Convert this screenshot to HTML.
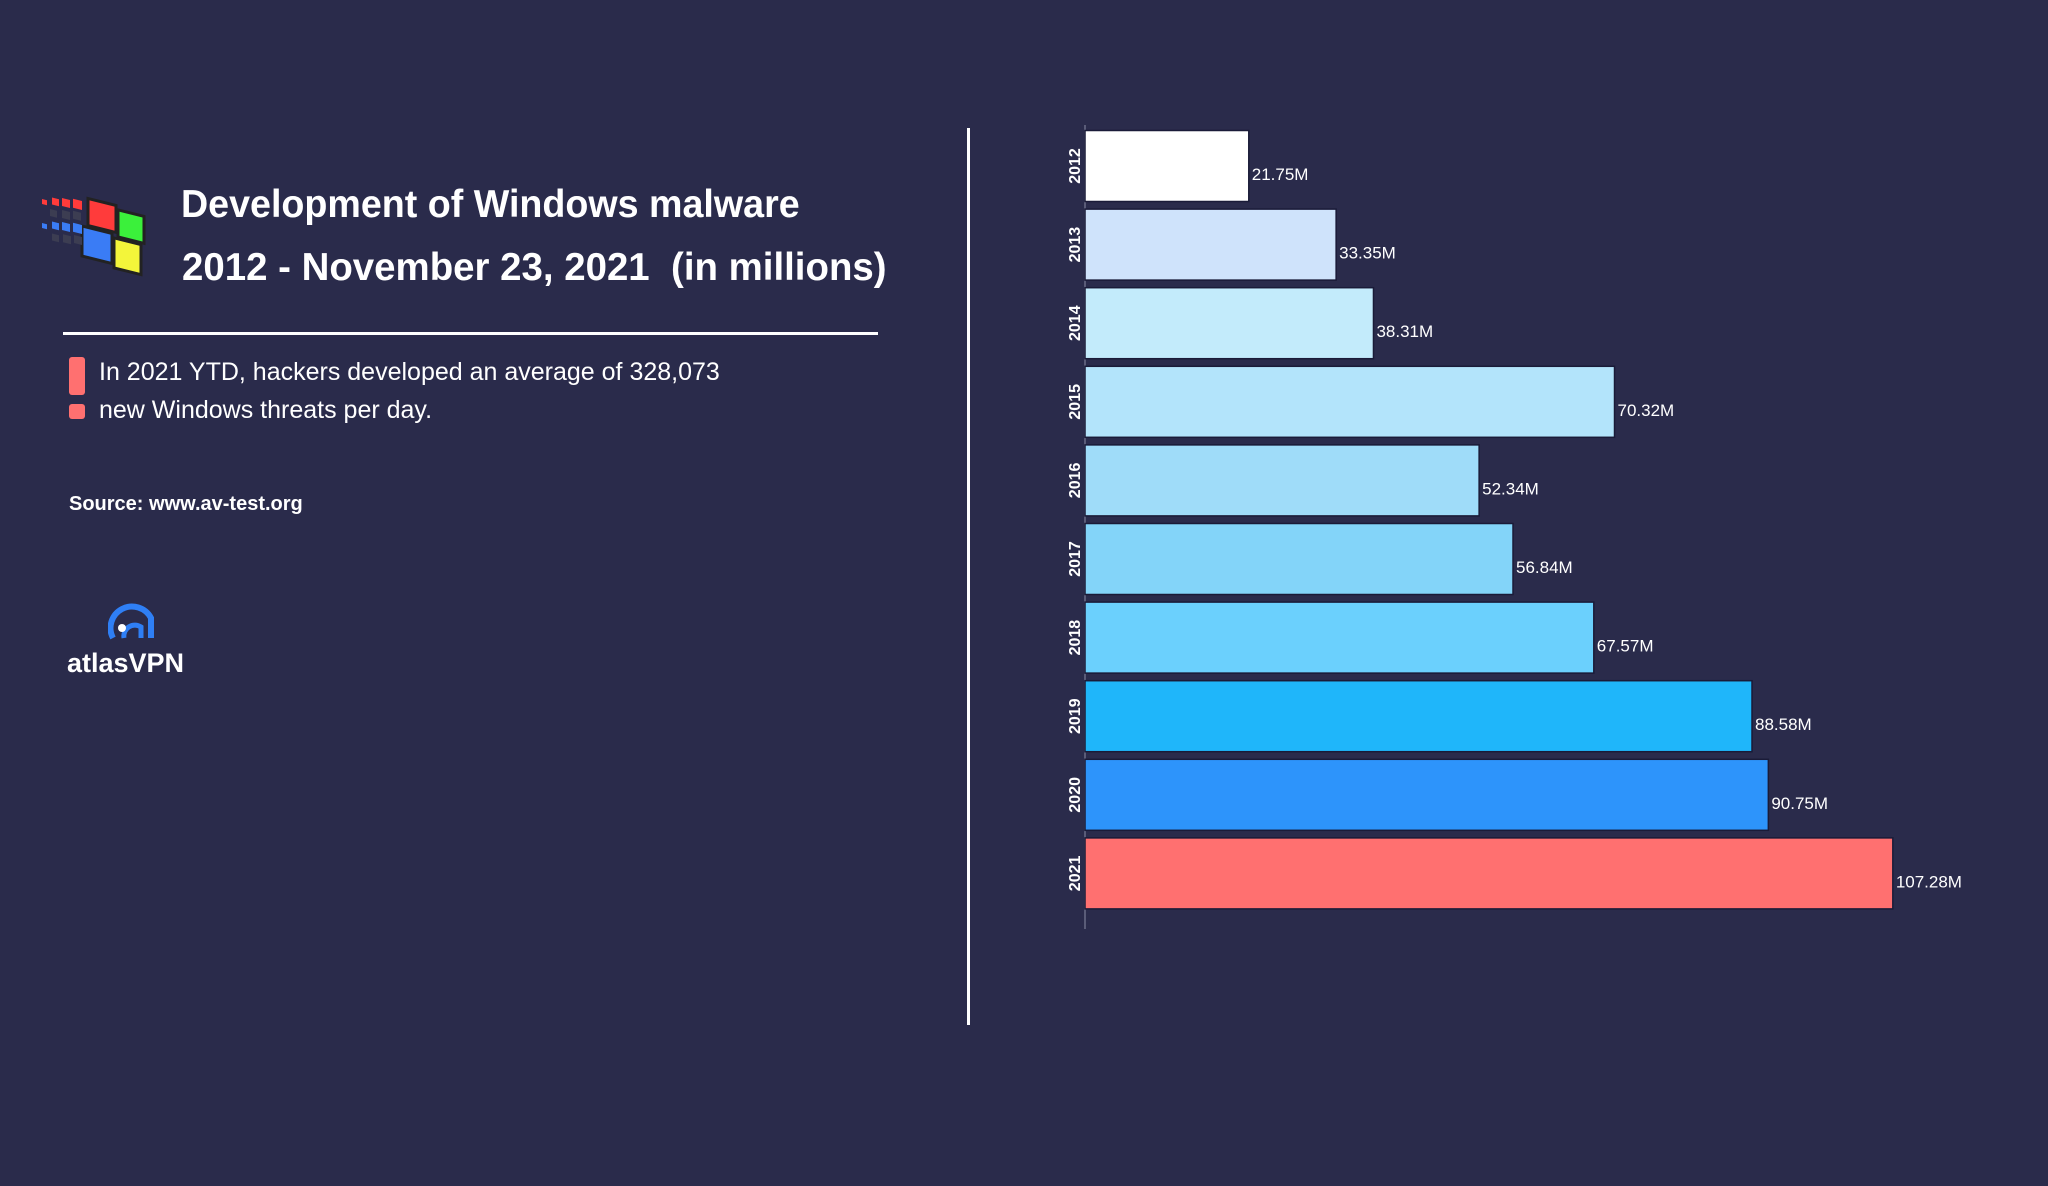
<!DOCTYPE html>
<html><head><meta charset="utf-8"><style>
body{margin:0;width:2048px;height:1186px;background:#2a2b4b;overflow:hidden;font-family:"Liberation Sans",sans-serif;color:#fff}
.t{position:absolute;white-space:nowrap}
</style></head><body>
<svg style="position:absolute;left:22px;top:186px" width="140" height="110" viewBox="0 0 140 110">
<g transform="skewY(14)">
<rect x="66" y="-4" width="28" height="27" fill="#ff3b3b" stroke="#222" stroke-width="3"/>
<rect x="96" y="0" width="26" height="27" fill="#3bf03b" stroke="#222" stroke-width="3"/>
<rect x="60" y="25" width="30" height="30" fill="#3a7cf5" stroke="#222" stroke-width="3"/>
<rect x="92" y="29" width="27" height="30" fill="#f3f53a" stroke="#222" stroke-width="3"/>
<g fill="#ff3b3b"><rect x="30" y="4" width="7" height="7"/><rect x="40" y="2" width="8" height="8"/><rect x="51" y="0" width="9" height="9"/><rect x="20" y="8" width="5" height="5"/></g>
<g fill="#3a7cf5"><rect x="30" y="28" width="7" height="7"/><rect x="40" y="26" width="8" height="8"/><rect x="51" y="24" width="9" height="9"/><rect x="20" y="32" width="5" height="5"/></g>
<g fill="#3c3d52"><rect x="28" y="16" width="7" height="7"/><rect x="40" y="14" width="8" height="8"/><rect x="51" y="12" width="8" height="8"/><rect x="30" y="40" width="7" height="7"/><rect x="41" y="38" width="8" height="8"/><rect x="52" y="36" width="8" height="8"/></g>
</g></svg>
<div class="t" style="left:181px;top:183px;font-size:39px;font-weight:bold;transform:scaleX(0.965);transform-origin:left">Development of Windows malware</div>
<div class="t" style="left:182px;top:246px;font-size:39px;font-weight:bold;transform:scaleX(0.985);transform-origin:left">2012 - November 23, 2021&nbsp; (in millions)</div>
<div style="position:absolute;left:63px;top:332px;width:815px;height:3px;background:#fff"></div>
<div style="position:absolute;left:69px;top:357px;width:16px;height:38px;background:#ff7070;border-radius:3px"></div>
<div style="position:absolute;left:69px;top:404px;width:16px;height:15px;background:#ff7070;border-radius:3px"></div>
<div class="t" style="left:99px;top:353px;font-size:25px;line-height:38px">In 2021 YTD, hackers developed an average of 328,073<br>new Windows threats per day.</div>
<div class="t" style="left:69px;top:493px;font-size:20px;font-weight:bold">Source: www.av-test.org</div>
<svg style="position:absolute;left:108px;top:594px" width="48" height="48" viewBox="0 0 48 48">
<path d="M5 44 A20 20 0 0 1 43 24 L43 44" fill="none" stroke="#2f7ff5" stroke-width="6"/>
<path d="M16 44 A11 11 0 0 1 33 33 L33 44" fill="none" stroke="#2f7ff5" stroke-width="5"/>
<circle cx="14" cy="34" r="4" fill="#fff"/></svg>
<div class="t" style="left:67px;top:648px;font-size:27px;font-weight:bold">atlasVPN</div>
<div style="position:absolute;left:967px;top:128px;width:3px;height:897px;background:#fff"></div>
<svg id="chart" style="position:absolute;left:0;top:0" width="2048" height="1186"></svg>
<script>
const years=["2012","2013","2014","2015","2016","2017","2018","2019","2020","2021"];
const values=[21.75,33.35,38.31,70.32,52.34,56.84,67.57,88.58,90.75,107.28];
const valueLabels=["21.75M","33.35M","38.31M","70.32M","52.34M","56.84M","67.57M","88.58M","90.75M","107.28M"];
const colors=["#ffffff","#cfe3fb","#c3ebfb","#b3e4fb","#9fdcf9","#83d4f9","#6bd0fd","#1fb6fa","#2d94fb","#ff7070"];
const NS="http://www.w3.org/2000/svg",svg=document.getElementById('chart');
const x0=1085,pxPer=7.53,y0=130.5,pitch=78.6,bh=71;
const xs=v=>x0+v*pxPer, ys=i=>y0+i*pitch;
function mk(t,a){const e=document.createElementNS(NS,t);for(const k in a)e.setAttribute(k,a[k]);svg.appendChild(e);return e;}
const ax=mk('line',{x1:x0,y1:125,x2:x0,y2:929,stroke:'#5a5c78','stroke-width':2});


years.forEach((y,i)=>{
 const r=mk('rect',{x:x0,y:ys(i),width:xs(values[i])-x0,height:bh,fill:colors[i],stroke:'#1a1b38','stroke-width':1.5});
 
 
 const cy=ys(i)+bh/2;
 const l=mk('text',{x:0,y:0,transform:`translate(1080,${cy}) rotate(-90)`,'text-anchor':'middle',fill:'#fff','font-size':16,'font-weight':'bold','font-family':'Liberation Sans, sans-serif'});
 l.textContent=y;
 
 
 const v=mk('text',{x:xs(values[i])+3,y:cy+14,fill:'#fff','font-size':17,'font-family':'Liberation Sans, sans-serif'});
 v.textContent=valueLabels[i];
 
 
});
</script>
</body></html>
